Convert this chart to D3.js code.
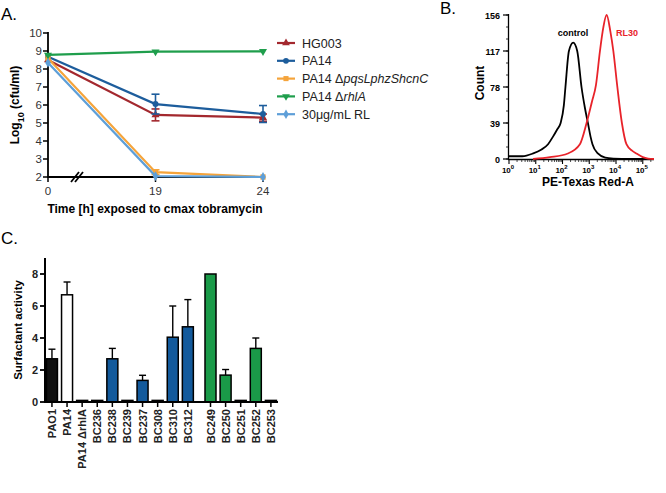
<!DOCTYPE html>
<html><head><meta charset="utf-8">
<script src="https://cdn.jsdelivr.net/npm/d3@7"></script>
<style>
body{margin:0;background:#fff;}
svg{display:block;font-family:"Liberation Sans",Arial,Helvetica,sans-serif;}
</style></head>
<body><svg id="chart" width="666" height="493"></svg>
<script>
// ---------- Panel A data ----------
const timeLabels = ["0", "19", "24"];
const seriesNames = ["HG003", "PA14", "PA14 ΔpqsLphzShcnC", "PA14 ΔrhlA", "30μg/mL RL"];
const hg003 = [8.5, 5.45, 5.3];
const hg003Err = [0, 0.33, 0.2];
const pa14 = [8.68, 6.05, 5.5];
const pa14Err = [0, 0.55, 0.47];
const pqs = [8.6, 2.27, 2.0];
const pqsErr = [0, 0.13, 0];
const rhlA = [8.78, 8.96, 8.98];
const rhlAErr = [0, 0.05, 0];
const rl = [8.35, 2.05, 2.0];
const rlErr = [0, 0, 0];
const yTicksA = [2, 3, 4, 5, 6, 7, 8, 9, 10];

// ---------- Panel B data (log10 fluorescence, count) ----------
const controlLog = [0, 0.5, 0.9, 1.2, 1.46, 1.64, 1.8, 1.93, 2.05, 2.11, 2.24, 2.4, 2.55, 2.71, 2.84, 2.95, 3.05, 3.12, 3.32, 3.6, 3.9, 4.5, 5.42];
const controlCount = [3, 3, 6, 10, 16, 24, 32, 39, 58, 78, 117, 126, 117, 78, 55, 39, 24, 16, 6, 1.5, 0.5, 0, 0];
const rlLog = [0.9, 1.53, 2.2, 2.65, 2.9, 3.1, 3.25, 3.4, 3.5, 3.65, 3.79, 3.9, 4.05, 4.22, 4.39, 4.6, 4.76, 5.0, 5.2, 5.42];
const rlCount = [0, 2, 6, 16, 39, 62, 80, 117, 138, 156, 138, 117, 78, 39, 16, 9, 6, 2, 0.5, 0];
const yTicksB = [0, 39, 78, 117, 156];
const xDecadesB = [0, 1, 2, 3, 4, 5];

// ---------- Panel C data ----------
const strains = ["PAO1", "PA14", "PA14 ΔrhlA", "BC236", "BC238", "BC239", "BC237", "BC308", "BC310", "BC312", "BC249", "BC250", "BC251", "BC252", "BC253"];
const surfactant = [2.7, 6.7, 0.1, 0.1, 2.7, 0.1, 1.35, 0.1, 4.05, 4.7, 8.0, 1.68, 0.1, 3.35, 0.1];
const surfactantErr = [0.6, 0.8, 0, 0, 0.65, 0, 0.32, 0, 1.95, 1.7, 0, 0.35, 0, 0.65, 0];
const strainGroup = ["black", "white", "black", "blue", "blue", "blue", "blue", "blue", "blue", "blue", "green", "green", "green", "green", "green"];
const strainSet = [0, 0, 0, 0, 0, 0, 0, 0, 0, 0, 1, 1, 1, 1, 1];
const yTicksC = [0, 2, 4, 6, 8];

const svg = d3.select("#chart");
svg.append("rect").attr("width", 666).attr("height", 493).attr("fill", "#fff");

// =================== Panel A ===================
(function () {
  const colors = ["#a3282e", "#1d5d9c", "#f5a43b", "#1f9e4c", "#5e9fd8"];
  const data = [hg003, pa14, pqs, rhlA, rl];
  const errs = [hg003Err, pa14Err, pqsErr, rhlAErr, rlErr];
  const shapes = [d3.symbolTriangle, d3.symbolCircle, d3.symbolSquare, d3.symbolTriangle, d3.symbolDiamond];
  const x = d3.scalePoint().domain(timeLabels).range([48, 263]);
  const y = d3.scaleLinear().domain([2, 10]).range([177, 33]);
  const g = svg.append("g");

  g.append("text").attr("x", 1).attr("y", 20).attr("font-size", 17).text("A.");

  // y axis
  g.append("line").attr("x1", 48).attr("x2", 48).attr("y1", 32).attr("y2", 177).attr("stroke", "#000").attr("stroke-width", 1.8);
  yTicksA.forEach(t => {
    g.append("line").attr("x1", 43).attr("x2", 48).attr("y1", y(t)).attr("y2", y(t)).attr("stroke", "#000").attr("stroke-width", 1.5);
    g.append("text").attr("x", 42).attr("y", y(t) + 4).attr("text-anchor", "end").attr("font-size", 11.5).attr("fill", "#333").text(t);
  });
  // x axis
  g.append("line").attr("x1", 47).attr("x2", 264).attr("y1", 177).attr("y2", 177).attr("stroke", "#000").attr("stroke-width", 2);
  timeLabels.forEach(t => {
    g.append("line").attr("x1", x(t)).attr("x2", x(t)).attr("y1", 177).attr("y2", 182).attr("stroke", "#000").attr("stroke-width", 1.5);
    g.append("text").attr("x", x(t)).attr("y", 195).attr("text-anchor", "middle").attr("font-size", 11.5).attr("fill", "#333").text(t);
  });
  // break marks
  [0, 4].forEach(d => {
    g.append("line").attr("x1", 71 + d).attr("x2", 79 + d).attr("y1", 182).attr("y2", 172).attr("stroke", "#000").attr("stroke-width", 1.8);
  });

  // y label
  const yl = g.append("text").attr("transform", "translate(19,105) rotate(-90)").attr("text-anchor", "middle").attr("font-size", 12).attr("font-weight", "bold");
  yl.append("tspan").text("Log");
  yl.append("tspan").attr("baseline-shift", "sub").attr("font-size", 9).text("10");
  yl.append("tspan").text(" (cfu/ml)");
  g.append("text").attr("x", 155).attr("y", 213).attr("text-anchor", "middle").attr("font-size", 12).attr("font-weight", "bold").text("Time [h] exposed to cmax tobramycin");

  const line = d3.line().x((d, i) => x(timeLabels[i])).y(d => y(d));
  data.forEach((s, k) => {
    const sg = g.append("g");
    s.forEach((v, i) => {
      const e = errs[k][i];
      if (e > 0.05) {
        sg.append("line").attr("x1", x(timeLabels[i])).attr("x2", x(timeLabels[i])).attr("y1", y(v - e)).attr("y2", y(v + e)).attr("stroke", colors[k]).attr("stroke-width", 1.6);
        [v - e, v + e].forEach(ev => sg.append("line").attr("x1", x(timeLabels[i]) - 4).attr("x2", x(timeLabels[i]) + 4).attr("y1", y(ev)).attr("y2", y(ev)).attr("stroke", colors[k]).attr("stroke-width", 1.6));
      }
    });
    sg.append("path").attr("d", line(s)).attr("fill", "none").attr("stroke", colors[k]).attr("stroke-width", 2.2);
    s.forEach((v, i) => {
      sg.append("path").attr("d", d3.symbol().type(shapes[k]).size(28)())
        .attr("transform", `translate(${x(timeLabels[i])},${y(v)})` + (k === 3 ? " rotate(180)" : ""))
        .attr("fill", colors[k]);
    });
  });

  // legend
  seriesNames.forEach((name, k) => {
    const ly = 43 + k * 17.8;
    g.append("line").attr("x1", 277).attr("x2", 295).attr("y1", ly).attr("y2", ly).attr("stroke", colors[k]).attr("stroke-width", 2.2);
    g.append("path").attr("d", d3.symbol().type(shapes[k]).size(26)()).attr("transform", `translate(286,${ly})` + (k === 3 ? " rotate(180)" : "")).attr("fill", colors[k]);
    const t = g.append("text").attr("x", 302).attr("y", ly + 4.5).attr("font-size", 12.5).attr("fill", "#222");
    if (k === 2) {
      t.append("tspan").text("PA14 Δ");
      t.append("tspan").attr("font-style", "italic").text("pqsLphzShcnC");
    } else if (k === 3) {
      t.append("tspan").text("PA14 Δ");
      t.append("tspan").attr("font-style", "italic").text("rhlA");
    } else t.text(name);
  });
})();

// =================== Panel B ===================
(function () {
  const x = d3.scaleLinear().domain([0, 5.42]).range([509, 654]);
  const y = d3.scaleLinear().domain([0, 156]).range([159, 15]);
  const g = svg.append("g");
  g.append("text").attr("x", 440).attr("y", 14).attr("font-size", 17).text("B.");

  g.append("line").attr("x1", 508.5).attr("x2", 508.5).attr("y1", 14).attr("y2", 160).attr("stroke", "#000").attr("stroke-width", 1.3);
  g.append("line").attr("x1", 508).attr("x2", 654).attr("y1", 159.5).attr("y2", 159.5).attr("stroke", "#000").attr("stroke-width", 1.3);
  d3.range(0, 157, 13).forEach(t => {
    g.append("line").attr("x1", 506).attr("x2", 508.5).attr("y1", y(t)).attr("y2", y(t)).attr("stroke", "#000").attr("stroke-width", 0.8);
  });
  yTicksB.forEach(t => {
    g.append("line").attr("x1", 503).attr("x2", 508.5).attr("y1", y(t)).attr("y2", y(t)).attr("stroke", "#000").attr("stroke-width", 1.2);
    g.append("text").attr("x", 500).attr("y", y(t) + 3.5).attr("text-anchor", "end").attr("font-size", 9).attr("font-weight", "bold").text(t);
  });
  xDecadesB.forEach(d => {
    g.append("line").attr("x1", x(d)).attr("x2", x(d)).attr("y1", 159.5).attr("y2", 164).attr("stroke", "#000").attr("stroke-width", 1.1);
    for (let m = 2; m <= 9; m++) {
      const v = d + Math.log10(m);
      if (v <= 5.42) g.append("line").attr("x1", x(v)).attr("x2", x(v)).attr("y1", 159.5).attr("y2", 162).attr("stroke", "#000").attr("stroke-width", 0.7);
    }
    const t = g.append("text").attr("x", x(d) - 1).attr("y", 173).attr("text-anchor", "middle").attr("font-size", 8).attr("font-weight", "bold");
    t.append("tspan").text("10");
    t.append("tspan").attr("dy", -4).attr("font-size", 6).text(d);
  });
  g.append("text").attr("transform", "translate(484,83) rotate(-90)").attr("text-anchor", "middle").attr("font-size", 12).attr("font-weight", "bold").text("Count");
  g.append("text").attr("x", 588).attr("y", 186).attr("text-anchor", "middle").attr("font-size", 12).attr("font-weight", "bold").text("PE-Texas Red-A");

  const line = d3.line().x(d => x(d[0])).y(d => y(d[1])).curve(d3.curveMonotoneX);
  g.append("path").attr("d", line(controlLog.map((v, i) => [v, controlCount[i]]))).attr("fill", "none").attr("stroke", "#000").attr("stroke-width", 1.8);
  g.append("path").attr("d", line(rlLog.map((v, i) => [v, rlCount[i]]))).attr("fill", "none").attr("stroke", "#e8232a").attr("stroke-width", 1.8);
  g.append("text").attr("x", 573).attr("y", 36).attr("text-anchor", "middle").attr("font-size", 9).attr("font-weight", "bold").text("control");
  g.append("text").attr("x", 627).attr("y", 36).attr("text-anchor", "middle").attr("font-size", 9).attr("font-weight", "bold").attr("fill", "#e8232a").text("RL30");
})();

// =================== Panel C ===================
(function () {
  const fills = { black: "#111", white: "#fff", blue: "#135a9c", green: "#1a9a48" };
  const pos = strains.map((s, i) => i + 0.5 * strainSet[i]);
  const x = d3.scaleLinear().domain([-0.46, 14.97]).range([45, 278]);
  const y = d3.scaleLinear().domain([0, 9]).range([402, 258]);
  const g = svg.append("g");
  g.append("text").attr("x", 1).attr("y", 244).attr("font-size", 17).text("C.");

  g.append("line").attr("x1", 45).attr("x2", 45).attr("y1", 258).attr("y2", 403).attr("stroke", "#000").attr("stroke-width", 2);
  yTicksC.forEach(t => {
    g.append("line").attr("x1", 40).attr("x2", 45).attr("y1", y(t)).attr("y2", y(t)).attr("stroke", "#000").attr("stroke-width", 1.8);
    g.append("text").attr("x", 38).attr("y", y(t) + 4).attr("text-anchor", "end").attr("font-size", 11).attr("font-weight", "bold").attr("fill", "#222").text(t);
  });
  g.append("text").attr("transform", "translate(22,330) rotate(-90)").attr("text-anchor", "middle").attr("font-size", 11.5).attr("font-weight", "bold").text("Surfactant activity");

  const bw = 11;
  strains.forEach((s, i) => {
    const cx = x(pos[i]);
    const v = surfactant[i], e = surfactantErr[i];
    if (e > 0) {
      g.append("line").attr("x1", cx).attr("x2", cx).attr("y1", y(v)).attr("y2", y(v + e)).attr("stroke", "#000").attr("stroke-width", 1.4);
      g.append("line").attr("x1", cx - 3.5).attr("x2", cx + 3.5).attr("y1", y(v + e)).attr("y2", y(v + e)).attr("stroke", "#000").attr("stroke-width", 1.4);
    }
    g.append("rect").attr("x", cx - bw / 2).attr("width", bw).attr("y", y(v)).attr("height", y(0) - y(v))
      .attr("fill", fills[strainGroup[i]]).attr("stroke", "#000").attr("stroke-width", 1.5);
    g.append("line").attr("x1", cx).attr("x2", cx).attr("y1", 402).attr("y2", 407).attr("stroke", "#000").attr("stroke-width", 1.5);
    g.append("text").attr("transform", `translate(${cx + 4},409) rotate(-90)`).attr("text-anchor", "end").attr("font-size", 11).attr("font-weight", "600").attr("fill", "#222").text(s);
  });
  g.append("line").attr("x1", 44).attr("x2", 278).attr("y1", 402).attr("y2", 402).attr("stroke", "#000").attr("stroke-width", 2);
})();
</script></body></html>
